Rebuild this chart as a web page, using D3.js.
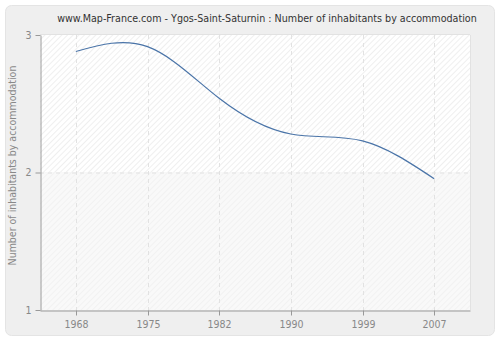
<!DOCTYPE html>
<html><head><meta charset="utf-8">
<script src="https://cdn.jsdelivr.net/npm/d3@7"></script>
<style>body{margin:0;background:#fff}svg{display:block}</style>
</head><body>
<script>
const years = ["1968","1975","1982","1990","1999","2007"];
const values = [2.88, 2.915, 2.54, 2.28, 2.23, 1.955];
const yTicks = [1, 2, 3];
const title = "www.Map-France.com - Ygos-Saint-Saturnin : Number of inhabitants by accommodation";
const yLabel = "Number of inhabitants by accommodation";

const FONT = "'DejaVu Sans Condensed', 'DejaVu Sans', sans-serif";
const W = 500, H = 340;
const m = {l: 40, r: 30, t: 35, b: 30};
const svg = d3.select("body").append("svg").attr("width", W).attr("height", H);
const defs = svg.append("defs");
function hatch(id, col) {
  const p = defs.append("pattern").attr("id", id).attr("patternUnits","userSpaceOnUse")
    .attr("width",4).attr("height",4).attr("patternTransform","rotate(45)");
  p.append("line").attr("x1",0).attr("y1",0).attr("x2",0).attr("y2",4).attr("stroke",col).attr("stroke-width",1.2);
}
hatch("hatchA", "#e4e4e4");
hatch("hatchB", "#ececec");

svg.append("rect").attr("x",5.5).attr("y",5.5).attr("width",489).attr("height",330).attr("rx",6)
  .attr("fill","#efefef").attr("stroke","#e4e4e4");

const x = d3.scaleBand().domain(years).range([m.l, W - m.r]);
const y = d3.scaleLinear().domain([1, 3]).range([H - m.b, m.t]);
const cx = d => x(d) + x.bandwidth()/2;

const g = svg.append("g");
const pw = W - m.r - m.l;
g.append("rect").attr("x", m.l).attr("y", y(3)).attr("width", pw).attr("height", y(2)-y(3)).attr("fill","#ffffff");
g.append("rect").attr("x", m.l).attr("y", y(3)).attr("width", pw).attr("height", y(2)-y(3)).attr("fill","url(#hatchA)");
g.append("rect").attr("x", m.l).attr("y", y(2)).attr("width", pw).attr("height", y(1)-y(2)).attr("fill","#f9f9f9");
g.append("rect").attr("x", m.l).attr("y", y(2)).attr("width", pw).attr("height", y(1)-y(2)).attr("fill","url(#hatchB)");
g.append("line").attr("x1", m.l).attr("x2", W-m.r).attr("y1", m.t-0.5).attr("y2", m.t-0.5).attr("stroke","#e2e2e2");
g.append("line").attr("x1", W-m.r+0.5).attr("x2", W-m.r+0.5).attr("y1", m.t).attr("y2", H-m.b).attr("stroke","#e2e2e2");

// grid
years.forEach(d => g.append("line").attr("x1", Math.round(cx(d))+0.5).attr("x2", Math.round(cx(d))+0.5)
  .attr("y1", m.t).attr("y2", H-m.b).attr("stroke","#e2e2e2").attr("stroke-dasharray","4,4"));
[2].forEach(v => g.append("line").attr("x1", m.l).attr("x2", W-m.r).attr("y1", y(v)+0.5).attr("y2", y(v)+0.5)
  .attr("stroke","#e2e2e2").attr("stroke-dasharray","4,4"));

// axes
const xa = svg.append("g").attr("transform",`translate(0,${H-m.b+0.5})`)
  .call(d3.axisBottom(x).tickSize(5).tickPadding(5).tickSizeOuter(0));
const ya = svg.append("g").attr("transform",`translate(${m.l+0.5},0)`)
  .call(d3.axisLeft(y).tickValues(yTicks).tickFormat(d3.format("d")).tickSize(5).tickPadding(4).tickSizeOuter(0));
[xa, ya].forEach(a => {
  a.selectAll("path").attr("stroke","#999");
  a.selectAll("line").attr("stroke","#999");
  a.selectAll("text").attr("fill","#888").style("font-family",FONT).style("font-size","10.5px");
});
xa.selectAll(".tick").attr("transform", d => `translate(${Math.round(cx(d))+0.5},0)`);

// line
const line = d3.line().x((d,i) => cx(years[i])).y(d => y(d)).curve(d3.curveNatural);
svg.append("path").datum(values).attr("d", line).attr("fill","none").attr("stroke","#4a74a8").attr("stroke-width",1.2);

const t = svg.append("text").attr("x", 267).attr("y", 22).attr("text-anchor","middle")
  .style("font-family",FONT).style("font-size","11px").attr("fill","#333").text(title);
const tw = t.node().getComputedTextLength();
t.style("font-size", (11 * 420 / tw).toFixed(2) + "px");
svg.append("text").attr("transform",`translate(16,${(m.t + H - m.b)/2 - 7}) rotate(-90)`).attr("text-anchor","middle")
  .style("font-family",FONT).style("font-size","10.5px").attr("fill","#888").text(yLabel);
</script>
</body></html>
